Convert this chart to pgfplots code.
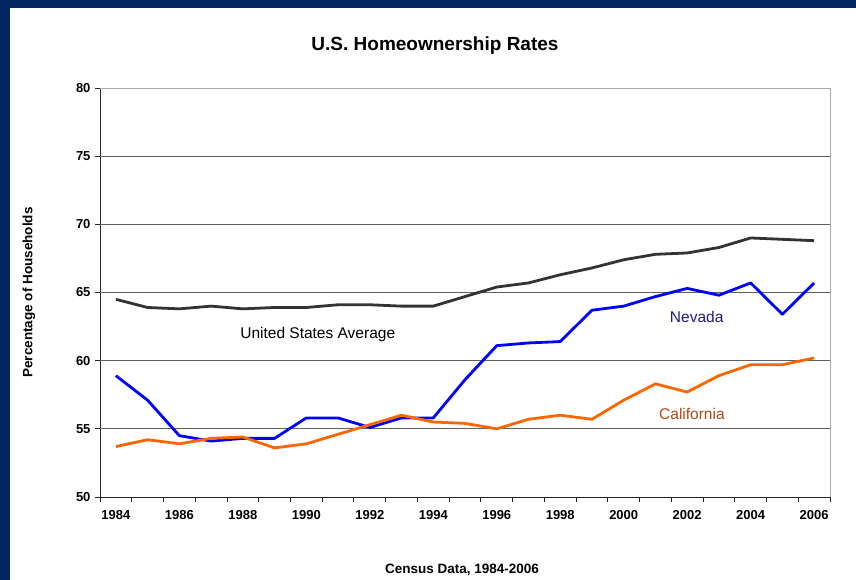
\documentclass[border=0pt]{standalone}
\usepackage{pgfplots}
\pgfplotsset{compat=1.18}
\usepackage{fontspec}
\setmainfont{Liberation Sans}
\definecolor{navyband}{RGB}{2,38,96}
\definecolor{usline}{RGB}{51,51,51}
\definecolor{nvline}{RGB}{0,0,255}
\definecolor{caline}{RGB}{255,102,0}
\definecolor{nvtext}{RGB}{28,28,140}
\definecolor{catext}{RGB}{180,72,24}
\definecolor{gridc}{RGB}{96,96,96}
\definecolor{framec}{RGB}{170,170,170}
\begin{document}
\begin{tikzpicture}
\fill[navyband] (0,0) rectangle (856pt,580pt);
\fill[white] (10pt,0) rectangle (856pt,572pt);
\path[use as bounding box] (0,0) rectangle (856pt,580pt);
\node[font=\bfseries\fontsize{19}{22}\selectfont, anchor=base] at (435pt,529pt) {U.S. Homeownership Rates};
\node[font=\bfseries\fontsize{13.5}{16}\selectfont, anchor=base] at (462pt,6.7pt) {Census Data, 1984-2006};
\node[font=\bfseries\fontsize{13.5}{16}\selectfont, anchor=base, rotate=90] at (32.3pt,287.5pt) {Percentage of Households};
\begin{axis}[
  at={(100pt,83pt)}, anchor=south west,
  scale only axis, width=730pt, height=409pt,
  xmin=1983.5, xmax=2006.5, ymin=50, ymax=80,
  axis x line*=bottom, axis y line*=left,
  axis line style={draw=black!85, line width=0.8pt},
  xtick={1984,1986,...,2006},
  minor xtick={1983.5,1984.5,...,2006.5},
  major x tick style={draw=none},
  minor x tick style={draw=black!85, line width=0.8pt},
  minor tick length=5pt,
  ytick={50,55,...,80},
  major y tick style={draw=black!85, line width=0.8pt},
  major tick length=5pt,
  tick align=outside,
  extra y ticks={55,60,65,70,75},
  extra y tick labels={},
  extra y tick style={grid=major, major tick length=0pt, major grid style={draw=gridc, line width=0.9pt}},
  /pgf/number format/1000 sep={},
  /pgf/number format/assume math mode=true,
  tick label style={font=\bfseries\fontsize{13}{15}\selectfont},
  xticklabel style={yshift=-5pt},
  yticklabel style={xshift=-1pt},
  clip=false,
]
\draw[framec, line width=0.8pt] (rel axis cs:0,1) -- (rel axis cs:1,1) -- (rel axis cs:1,0);
\addplot[usline, line width=2.8pt, line join=round, mark=none] coordinates {
(1984,64.5)(1985,63.9)(1986,63.8)(1987,64.0)(1988,63.8)(1989,63.9)(1990,63.9)(1991,64.1)(1992,64.1)(1993,64.0)(1994,64.0)(1995,64.7)(1996,65.4)(1997,65.7)(1998,66.3)(1999,66.8)(2000,67.4)(2001,67.8)(2002,67.9)(2003,68.3)(2004,69.0)(2005,68.9)(2006,68.8)};
\addplot[nvline, line width=2.8pt, line join=round, mark=none] coordinates {
(1984,58.9)(1985,57.1)(1986,54.5)(1987,54.1)(1988,54.3)(1989,54.3)(1990,55.8)(1991,55.8)(1992,55.1)(1993,55.8)(1994,55.8)(1995,58.6)(1996,61.1)(1997,61.3)(1998,61.4)(1999,63.7)(2000,64.0)(2001,64.7)(2002,65.3)(2003,64.8)(2004,65.7)(2005,63.4)(2006,65.7)};
\addplot[caline, line width=2.8pt, line join=round, mark=none] coordinates {
(1984,53.7)(1985,54.2)(1986,53.9)(1987,54.3)(1988,54.4)(1989,53.6)(1990,53.9)(1991,54.6)(1992,55.3)(1993,56.0)(1994,55.5)(1995,55.4)(1996,55.0)(1997,55.7)(1998,56.0)(1999,55.7)(2000,57.1)(2001,58.3)(2002,57.7)(2003,58.9)(2004,59.7)(2005,59.7)(2006,60.2)};
\node[font=\fontsize{15.5}{18}\selectfont, text=black] at (axis cs:1990.36,61.89) {United States Average};
\node[font=\fontsize{15.5}{18}\selectfont, text=nvtext] at (axis cs:2002.3,63.2) {Nevada};
\node[font=\fontsize{15.5}{18}\selectfont, text=catext] at (axis cs:2002.15,56.09) {California};
\end{axis}
\end{tikzpicture}
\end{document}
